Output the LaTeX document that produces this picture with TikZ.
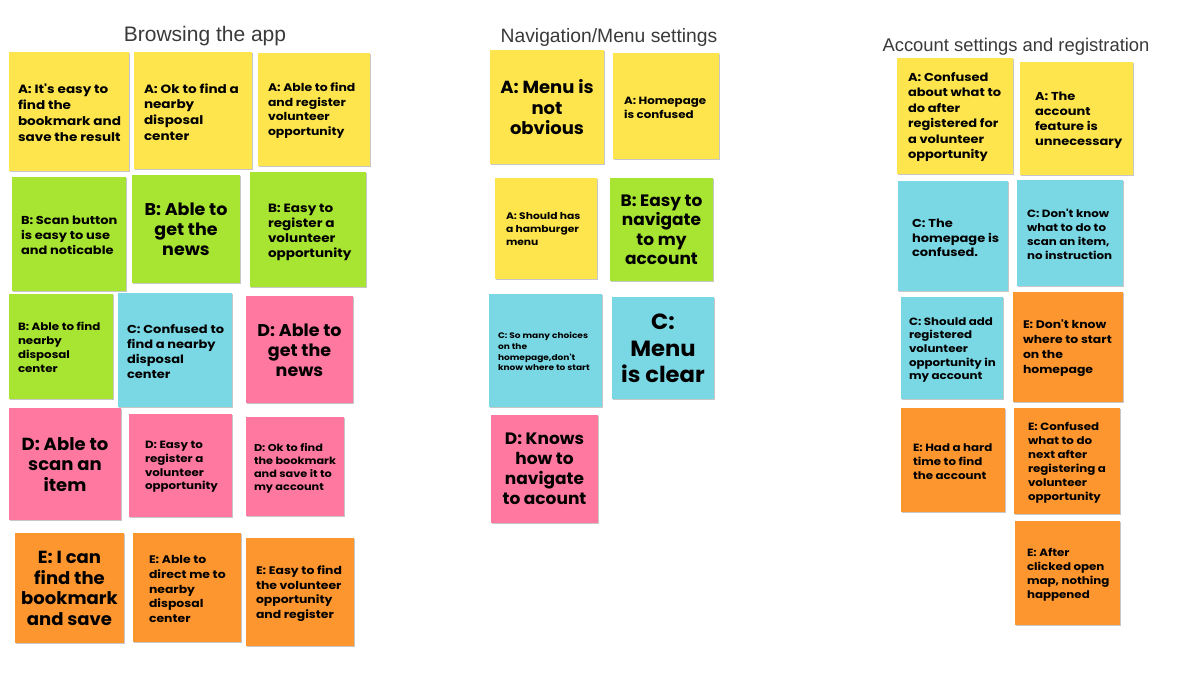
\documentclass[tikz,border=0pt]{standalone}
\usepackage{fontspec}
\setmainfont{Poppins}
\newfontfamily\famlefttext{Poppins}[FakeStretch=1.13]
\newfontfamily\fammidtext{Poppins}[FakeStretch=1.03]
\newfontfamily\titlefont{Liberation Sans}
\usetikzlibrary{shadows}
\definecolor{sy}{HTML}{FEE54E}
\definecolor{sg}{HTML}{A8E432}
\definecolor{sc}{HTML}{7AD8E5}
\definecolor{sp}{HTML}{FF78A0}
\definecolor{so}{HTML}{FE9630}
\definecolor{tgray}{HTML}{3A3A3A}
\tikzset{
  stickybox/.style={draw=none, inner sep=0pt, outer sep=0pt, anchor=north west,
    drop shadow={shadow xshift=0.5pt, shadow yshift=-1.2pt, opacity=0.22, fill=black}},
  notetext/.style={inner sep=0pt, outer sep=0pt, text=black},
  lefttext/.style={notetext, anchor=west, align=left, yshift=-1.5pt},
  midtext/.style={notetext, anchor=center, align=center},
  heading/.style={inner sep=0pt, anchor=base, text=tgray}
}
\newcommand\stk[6]{\node[stickybox, fill=#2, minimum width={(#5-#3)*1pt}, minimum height={(#6-#4)*1pt}] (#1) at (#3,#4) {};}
\newcommand\ntx[7]{\node[#4, font=\csname fam#4\endcsname\fontsize{#2}{#3}\selectfont\bfseries] (#1t) at (#5,#6) {#7};}
\begin{document}
\begin{tikzpicture}[x=1pt,y=-1pt]
\useasboundingbox[fill=white] (0,0) rectangle (1185,679);
% headings
\node[heading, font=\titlefont\fontsize{21}{24}\selectfont] (h1) at (205,41.7) {Browsing the app};
\node[heading, font=\titlefont\fontsize{19.3}{22}\selectfont] (h2) at (609,43) {Navigation/Menu settings};
\node[heading, font=\titlefont\fontsize{18.4}{21}\selectfont] (h3) at (1016,52) {Account settings and registration};
% Browsing the app
\stk{a1}{sy}{9}{52}{129}{171}
\ntx{a1}{12}{16}{lefttext}{18}{111}{A: It's easy to\\find the\\bookmark and\\save the result}
\stk{a2}{sy}{134}{52}{252}{169}
\ntx{a2}{12}{15.7}{lefttext}{144}{110.5}{A: Ok to find a\\nearby\\disposal\\center}
\stk{a3}{sy}{258}{53}{370}{166}
\ntx{a3}{11}{14.6}{lefttext}{268}{109}{A: Able to find\\and register\\volunteer\\opportunity}
\stk{b1}{sg}{12}{177}{126}{291}
\ntx{b1}{11.5}{15}{lefttext}{21}{234}{B: Scan button\\is easy to use\\and noticable}
\stk{b2}{sg}{132}{175}{240}{283}
\ntx{b2}{17}{20}{midtext}{186}{229}{B: Able to\\get the\\news}
\stk{b3}{sg}{250}{172}{366}{287}
\ntx{b3}{12}{15}{lefttext}{268}{230.5}{B: Easy to\\register a\\volunteer\\opportunity}
\stk{b4}{sg}{9}{294}{113}{399}
\ntx{b4}{10.5}{14}{lefttext}{18}{346}{B: Able to find\\nearby\\disposal\\center}
\stk{c1}{sc}{118}{293}{232}{407}
\ntx{c1}{11.5}{15}{lefttext}{127}{350.5}{C: Confused to\\find a nearby\\disposal\\center}
\stk{d1}{sp}{246}{296}{353}{403}
\ntx{d1}{17}{20}{midtext}{299.5}{350}{D: Able to\\get the\\news}
\stk{d2}{sp}{9}{408}{121}{520}
\ntx{d2}{17.5}{20.5}{midtext}{65}{464.5}{D: Able to\\scan an\\item}
\stk{d3}{sp}{129}{414}{232}{517}
\ntx{d3}{10.5}{13.7}{lefttext}{145}{465.5}{D: Easy to\\register a\\volunteer\\opportunity}
\stk{d4}{sp}{246}{417}{344}{516}
\ntx{d4}{10}{13}{lefttext}{254}{466.5}{D: Ok to find\\the bookmark\\and save it to\\my account}
\stk{e1}{so}{15}{533}{124}{643}
\ntx{e1}{17.5}{20.5}{midtext}{69.5}{588.5}{E: I can\\find the\\bookmark\\and save}
\stk{e2}{so}{133}{533}{241}{642}
\ntx{e2}{11}{14.7}{lefttext}{149}{587.5}{E: Able to\\direct me to\\nearby\\disposal\\center}
\stk{e3}{so}{246}{538}{354}{646}
\ntx{e3}{11}{14.7}{lefttext}{256}{592}{E: Easy to find\\the volunteer\\opportunity\\and register}
% Navigation / Menu settings
\stk{na1}{sy}{490}{50}{604}{164}
\ntx{na1}{17.5}{20.5}{midtext}{547}{107.5}{A: Menu is\\not\\obvious}
\stk{na2}{sy}{613}{53}{719}{159}
\ntx{na2}{10.5}{14}{lefttext}{624}{106}{A: Homepage\\is confused}
\stk{na3}{sy}{495}{178}{597}{279}
\ntx{na3}{9.5}{13}{lefttext}{506}{228}{A: Should has\\a hamburger\\menu}
\stk{nb1}{sg}{610}{178}{713}{281}
\ntx{nb1}{16.5}{19.5}{midtext}{661.5}{230}{B: Easy to\\navigate\\to my\\account}
\stk{nc1}{sc}{489}{294}{602}{407}
\ntx{nc1}{8}{10.7}{lefttext}{498}{350}{C: So many choices\\on the\\homepage,don't\\know where to start}
\stk{nc2}{sc}{612}{297}{714}{399}
\ntx{nc2}{22}{26.5}{midtext}{663}{348.5}{C:\\Menu\\is clear}
\stk{nd1}{sp}{491}{415}{598}{523}
\ntx{nd1}{16.5}{20}{midtext}{544.5}{469}{D: Knows\\how to\\navigate\\to acount}
% Account settings and registration
\stk{aa1}{sy}{897}{58}{1013}{174}
\ntx{aa1}{11.5}{15.4}{lefttext}{908}{115.5}{A: Confused\\about what to\\do after\\registered for\\a volunteer\\opportunity}
\stk{aa2}{sy}{1020}{62}{1133}{175}
\ntx{aa2}{11.5}{15}{lefttext}{1035}{118.5}{A: The\\account\\feature is\\unnecessary}
\stk{ac1}{sc}{898}{181}{1008}{291}
\ntx{ac1}{11.5}{14.5}{lefttext}{912}{236.5}{C: The\\homepage is\\confused.}
\stk{ac2}{sc}{1017}{180}{1123}{286}
\ntx{ac2}{10.5}{14}{lefttext}{1027}{233}{C: Don't know\\what to do to\\scan an item,\\no instruction}
\stk{ac3}{sc}{901}{297}{1003}{399}
\ntx{ac3}{10.5}{13.7}{lefttext}{909}{348.5}{C: Should add\\registered\\volunteer\\opportunity in\\my account}
\stk{ae1}{so}{1013}{292}{1123}{402}
\ntx{ae1}{11}{15}{lefttext}{1023}{346.5}{E: Don't know\\where to start\\on the\\homepage}
\stk{ae2}{so}{901}{408}{1005}{512}
\ntx{ae2}{10.5}{14}{lefttext}{913}{460}{E: Had a hard\\time to find\\the account}
\stk{ae3}{so}{1014}{408}{1120}{514}
\ntx{ae3}{10.5}{14}{lefttext}{1028}{461}{E: Confused\\what to do\\next after\\registering a\\volunteer\\opportunity}
\stk{ae4}{so}{1015}{521}{1120}{625}
\ntx{ae4}{10.5}{14}{lefttext}{1027}{573}{E: After\\clicked open\\map, nothing\\happened}
\end{tikzpicture}
\end{document}
